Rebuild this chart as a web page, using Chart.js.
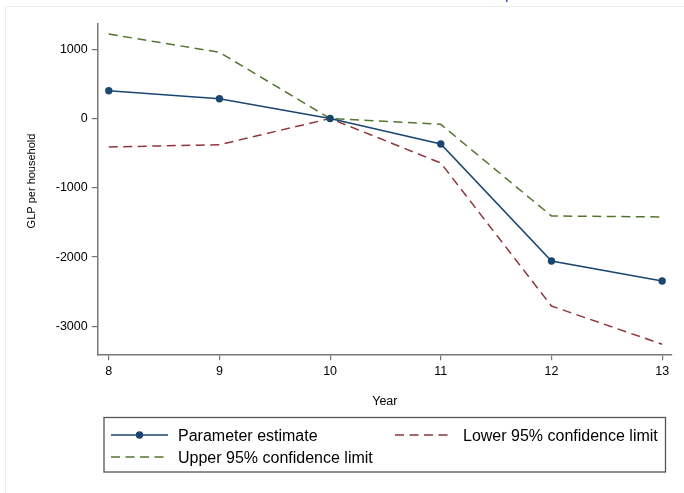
<!DOCTYPE html>
<html>
<head>
<meta charset="utf-8">
<script src="https://cdn.jsdelivr.net/npm/chart.js@4"></script>
<style>
  html, body { margin: 0; padding: 0; background: #fff; }
  #wrap { width: 684px; height: 493px; position: relative; }
</style>
</head>
<body>
<div id="wrap"><canvas id="c" width="684" height="493"></canvas></div>
<script>
// ---- data ----
const years = [8, 9, 10, 11, 12, 13];
const parameterEstimate = [401, 286, 0, -368, -2056, -2345];
const lowerLimit = [-411, -378, 0, -642, -2706, -3258];
const upperLimit = [1219, 955, 0, -84, -1407, -1421];
const yTicks = [-3000, -2000, -1000, 0, 1000];
const xTicks = [8, 9, 10, 11, 12, 13];
const seriesNames = ['Parameter estimate', 'Lower 95% confidence limit', 'Upper 95% confidence limit'];
const xTitle = 'Year';
const yTitle = 'GLP per household';

const FONT = '"Liberation Sans", Arial, Helvetica, sans-serif';
const NAVY = '#1a476f', MAROON = '#90353b', GREEN = '#55752f';
const AXIS = '#777777';

const pts = arr => years.map((x, i) => ({ x: x, y: arr[i] }));

const decor = {
  id: 'decor',
  beforeDraw(chart) {
    const ctx = chart.ctx;
    ctx.save();
    ctx.fillStyle = '#fff';
    ctx.fillRect(0, 0, chart.width, chart.height);
    ctx.strokeStyle = '#e6eef1';
    ctx.lineWidth = 1;
    ctx.strokeRect(5.5, 6.5, 700, 500);
    // header fragment (cut off)
    ctx.fillStyle = '#3b3bd0';
    ctx.font = '16px ' + FONT;
    ctx.textBaseline = 'alphabetic';
    ctx.fillText('p', 505, -1);
    ctx.restore();
  },
  afterDraw(chart) {
    const ctx = chart.ctx;
    const ca = chart.chartArea;
    ctx.save();
    // axis titles
    ctx.fillStyle = '#000';
    ctx.textAlign = 'center';
    ctx.textBaseline = 'middle';
    ctx.font = '12.5px ' + FONT;
    ctx.fillText(xTitle, (ca.left + ca.right) / 2, 401.5);
    ctx.save();
    ctx.translate(32, 181);
    ctx.rotate(-Math.PI / 2);
    ctx.font = '11px ' + FONT;
    ctx.fillText(yTitle, 0, 0);
    ctx.restore();

    // legend box
    ctx.strokeStyle = '#555';
    ctx.lineWidth = 1.3;
    ctx.strokeRect(104, 417.5, 561.5, 54.5);

    const sym = (x0, x1, y, color, dashed, marker) => {
      ctx.beginPath();
      ctx.strokeStyle = color;
      ctx.lineWidth = 1.5;
      ctx.setLineDash(dashed ? [9, 5.5] : []);
      ctx.moveTo(x0, y); ctx.lineTo(x1, y);
      ctx.stroke();
      ctx.setLineDash([]);
      if (marker) {
        ctx.beginPath();
        ctx.fillStyle = color;
        ctx.arc((x0 + x1) / 2, y, 3.7, 0, Math.PI * 2);
        ctx.fill();
      }
    };
    sym(111, 168, 435, NAVY, false, true);
    sym(395, 448, 435, MAROON, true, false);
    sym(111, 168, 457, GREEN, true, false);
    ctx.fillStyle = '#000';
    ctx.textAlign = 'left';
    ctx.textBaseline = 'alphabetic';
    ctx.font = '16px ' + FONT;
    ctx.fillText(seriesNames[0], 178, 440.5);
    ctx.fillText(seriesNames[1], 463, 440.5);
    ctx.fillText(seriesNames[2], 178, 463);
    ctx.restore();
  }
};

new Chart(document.getElementById('c'), {
  type: 'line',
  data: {
    datasets: [
      { label: seriesNames[0], data: pts(parameterEstimate), borderColor: NAVY, backgroundColor: NAVY,
        borderWidth: 1.6, pointRadius: 3.7, pointBackgroundColor: NAVY, pointBorderWidth: 0, tension: 0, order: 1 },
      { label: seriesNames[1], data: pts(lowerLimit), borderColor: MAROON, borderWidth: 1.5,
        borderDash: [9, 5.5], pointRadius: 0, tension: 0, order: 2 },
      { label: seriesNames[2], data: pts(upperLimit), borderColor: GREEN, borderWidth: 1.5,
        borderDash: [9, 5.5], pointRadius: 0, tension: 0, order: 3 }
    ]
  },
  options: {
    responsive: false,
    animation: false,
    layout: { padding: { top: 24, right: 12, left: 0, bottom: 0 } },
    plugins: { legend: { display: false }, tooltip: { enabled: false }, title: { display: false } },
    scales: {
      x: {
        type: 'linear', min: 7.9, max: 13.089,
        afterBuildTicks: s => { s.ticks = xTicks.map(v => ({ value: v })); },
        afterFit: s => { s.height = 493 - 354.3; },
        ticks: { color: '#000', font: { family: FONT, size: 12.5 }, padding: 4, maxRotation: 0,
                 callback: v => String(v) },
        grid: { drawOnChartArea: false, drawTicks: true, tickLength: 6, color: AXIS, lineWidth: 1.2 },
        border: { display: true, color: AXIS, width: 1.5 },
        title: { display: false }
      },
      y: {
        type: 'linear', min: -3403, max: 1364,
        afterBuildTicks: s => { s.ticks = yTicks.map(v => ({ value: v })); },
        afterFit: s => { s.width = 97.7; },
        ticks: { color: '#000', font: { family: FONT, size: 12.5 }, padding: 4,
                 callback: v => String(v) },
        grid: { drawOnChartArea: false, drawTicks: true, tickLength: 6, color: AXIS, lineWidth: 1.2 },
        border: { display: true, color: AXIS, width: 1.5 },
        title: { display: false }
      }
    }
  },
  plugins: [decor]
});
</script>
</body>
</html>
